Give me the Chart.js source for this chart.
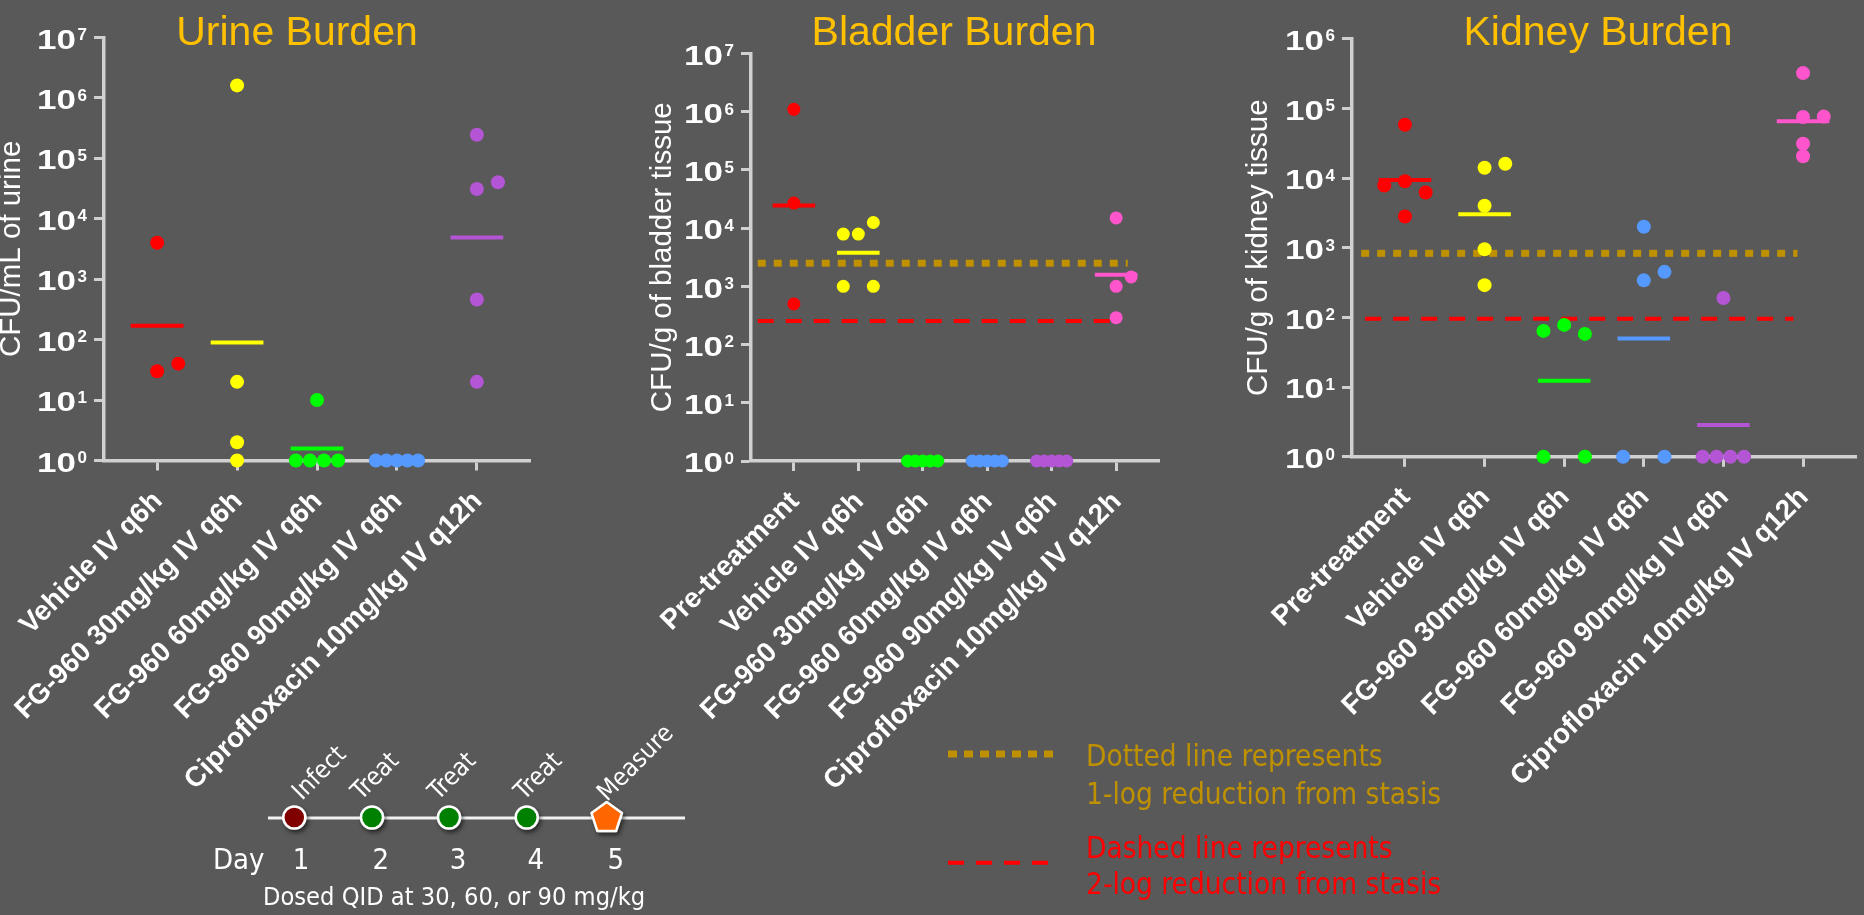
<!DOCTYPE html>
<html>
<head>
<meta charset="utf-8">
<title>CFU burden after FG-960 dosing</title>
<script src="https://cdn.jsdelivr.net/npm/chart.js@4.4.1/dist/chart.umd.min.js"></script>
<style>
  html, body { margin: 0; padding: 0; background: #595959; }
  #stage { position: relative; width: 1864px; height: 915px; overflow: hidden; background: #595959; }
  #stage canvas { position: absolute; top: 0; }
  #overlay { position: absolute; left: 0; top: 0; pointer-events: none; }
  .cond { font-family: 'DejaVu Sans Condensed', 'DejaVu Sans', sans-serif; font-stretch: condensed; }
</style>
</head>
<body>
<div id="stage">
  <canvas id="urineChart" width="620" height="915" style="left:0px"></canvas>
  <canvas id="bladderChart" width="620" height="915" style="left:620px"></canvas>
  <canvas id="kidneyChart" width="624" height="915" style="left:1240px"></canvas>

  <svg id="overlay" width="1864" height="915" viewBox="0 0 1864 915">
    <defs>
      <filter id="markerShadow" x="-60%" y="-60%" width="220%" height="220%">
        <feDropShadow dx="2" dy="3" stdDeviation="2" flood-color="#000" flood-opacity="0.55"/>
      </filter>
    </defs>

    <!-- panel titles -->
    <g font-family="'Liberation Sans', Arial, sans-serif" font-size="41" fill="#FFC000" text-anchor="middle">
      <text x="297" y="45">Urine Burden</text>
      <text x="954" y="45">Bladder Burden</text>
      <text x="1598" y="45">Kidney Burden</text>
    </g>

    <!-- dosing timeline -->
    <line x1="268" y1="818" x2="685" y2="818" stroke="#f2f2f2" stroke-width="3"/>
    <g filter="url(#markerShadow)" stroke="#ffffff" stroke-width="2.5">
      <circle cx="294.3" cy="817.5" r="11" fill="#800000"/>
      <circle cx="372" cy="817.5" r="11" fill="#008000"/>
      <circle cx="449" cy="817.5" r="11" fill="#008000"/>
      <circle cx="526.7" cy="817.5" r="11" fill="#008000"/>
      <polygon points="606.7,802 621.9,813.1 616.1,830.9 597.3,830.9 591.5,813.1" fill="#FF6600" stroke-linejoin="round"/>
    </g>
    <g class="cond" font-size="25" fill="#ffffff">
      <text transform="translate(302,801) rotate(-45)">Infect</text>
      <text transform="translate(361,801) rotate(-45)">Treat</text>
      <text transform="translate(438,801) rotate(-45)">Treat</text>
      <text transform="translate(524,801) rotate(-45)">Treat</text>
      <text transform="translate(607,802) rotate(-45)">Measure</text>
    </g>
    <g class="cond" font-size="29" fill="#ffffff">
      <text x="213" y="869">Day</text>
      <g text-anchor="middle">
        <text x="301" y="869">1</text>
        <text x="380.7" y="869">2</text>
        <text x="458" y="869">3</text>
        <text x="535.7" y="869">4</text>
        <text x="615.7" y="869">5</text>
      </g>
    </g>
    <text class="cond" x="263" y="905" font-size="25.2" fill="#ffffff">Dosed QID at 30, 60, or 90 mg/kg</text>

    <!-- key for the stasis reference lines -->
    <line x1="948" y1="754" x2="1054" y2="754" stroke="#BF9000" stroke-width="7" stroke-dasharray="9 7"/>
    <g class="cond" font-size="29.5" fill="#BF9000">
      <text x="1086" y="766">Dotted line represents</text>
      <text x="1086" y="804">1-log reduction from stasis</text>
    </g>
    <line x1="948" y1="862.7" x2="1048" y2="862.7" stroke="#FF0000" stroke-width="4" stroke-dasharray="16 12"/>
    <g class="cond" font-size="29.5" fill="#FF0000">
      <text x="1086" y="858">Dashed line represents</text>
      <text x="1086" y="894">2-log reduction from stasis</text>
    </g>
  </svg>
</div>

<script>
// ---- groups ----
const urineGroups = [
  'Vehicle IV q6h',
  'FG-960 30mg/kg IV q6h',
  'FG-960 60mg/kg IV q6h',
  'FG-960 90mg/kg IV q6h',
  'Ciprofloxacin 10mg/kg IV q12h'
];
const tissueGroups = [
  'Pre-treatment',
  'Vehicle IV q6h',
  'FG-960 30mg/kg IV q6h',
  'FG-960 60mg/kg IV q6h',
  'FG-960 90mg/kg IV q6h',
  'Ciprofloxacin 10mg/kg IV q12h'
];

// ---- CFU per animal (1 = limit of detection) ----
const urineCfu = [
  [4000, 30, 40],
  [1600000, 20, 2, 1],
  [10, 1, 1, 1, 1],
  [1, 1, 1, 1, 1],
  [245000, 31000, 40000, 460, 20]
];
const bladderCfu = [
  [1100000, 27000, 500],
  [7900, 7900, 12500, 1000, 1000],
  [1, 1, 1, 1, 1],
  [1, 1, 1, 1, 1],
  [1, 1, 1, 1, 1],
  [15000, 1450, 1000, 290]
];
const kidneyCfu = [
  [58000, 7800, 9000, 6200, 2800],
  [14000, 16000, 4000, 950, 290],
  [64, 78, 58, 1, 1],
  [2000, 340, 450, 1, 1],
  [190, 1, 1, 1, 1],
  [320000, 75000, 76000, 31000, 20500]
];

// stasis reference levels: [1-log reduction, 2-log reduction]
const bladderStasisLines = [2500, 255];
const kidneyStasisLines = [830, 96];

// y tick values
const urineDecades = [1, 10, 100, 1e3, 1e4, 1e5, 1e6, 1e7];
const bladderDecades = [1, 10, 100, 1e3, 1e4, 1e5, 1e6, 1e7];
const kidneyDecades = [1, 10, 100, 1e3, 1e4, 1e5, 1e6];

// ---- styles ----
const urineColors = ['#FF0000', '#FFFF00', '#00FF00', '#5599FF', '#B455D5'];
const tissueColors = ['#FF0000', '#FFFF00', '#00FF00', '#5599FF', '#B455D5', '#FF55CC'];
const AXIS = '#D0D0D0';
const SANS = "'Liberation Sans', Arial, sans-serif";
const STAGE_H = 915;

Chart.defaults.font.family = SANS;

function geoMean(vals) {
  const s = vals.reduce((a, v) => a + Math.log10(v), 0);
  return Math.pow(10, s / vals.length);
}

// Scatter-dot layout: points whose markers would overlap vertically are grouped
// and fanned out sideways within +/- spread (category units).
function spreadOffsets(vals, spread, pxPerDecade, joinPx) {
  const order = vals.map((_, i) => i).sort((a, b) => (vals[b] - vals[a]) || (a - b));
  const clusters = [];
  let cur = [];
  order.forEach(i => {
    if (cur.length) {
      const prev = cur[cur.length - 1];
      const gap = (Math.log10(vals[prev]) - Math.log10(vals[i])) * pxPerDecade;
      if (gap > joinPx) { clusters.push(cur); cur = []; }
    }
    cur.push(i);
  });
  if (cur.length) clusters.push(cur);

  const off = vals.map(() => 0);
  clusters.forEach(c => {
    if (c.length < 2) return;
    c.sort((a, b) => a - b);
    const same = c.every(i => vals[i] === vals[c[0]]);
    if (c.length === 2 && !same) {
      const hi = vals[c[0]] > vals[c[1]] ? c[0] : c[1];
      off[hi] = spread;
      return;
    }
    c.forEach((i, k) => { off[i] = -spread + (2 * spread * k) / (c.length - 1); });
  });
  return off;
}

// Power-of-ten tick labels: "10" with a raised exponent, right-aligned next to the tick marks.
const powerTickLabels = {
  id: 'powerTickLabels',
  afterDraw(chart) {
    const y = chart.scales.y;
    const ctx = chart.ctx;
    const right = chart.chartArea.left - 17;
    ctx.save();
    ctx.fillStyle = '#ffffff';
    ctx.textBaseline = 'alphabetic';
    ctx.textAlign = 'right';
    y.ticks.forEach(t => {
      const py = y.getPixelForValue(t.value);
      const exp = String(Math.round(Math.log10(t.value)));
      ctx.font = `bold 17px ${SANS}`;
      const ew = ctx.measureText(exp).width;
      ctx.fillText(exp, right, py + 2.8);
      ctx.font = `bold 28px ${SANS}`;
      ctx.save();
      ctx.translate(right - ew - 1.5, py + 11.2);
      ctx.scale(1.25, 1);
      ctx.fillText('10', 0, 0);
      ctx.restore();
    });
    ctx.restore();
  }
};

function makePanel(cfg) {
  const nGroups = cfg.groups.length;
  const maxExp = cfg.decades.length - 1;
  const pxPerDecade = (cfg.plotBottom - cfg.plotTop) / maxExp;
  const datasets = [];

  if (cfg.stasis) {
    datasets.push({
      data: [{ x: cfg.dottedSpan[0], y: cfg.stasis[0] }, { x: cfg.dottedSpan[1], y: cfg.stasis[0] }],
      showLine: true, borderColor: '#BF9000', borderWidth: 7, borderDash: [8, 8],
      borderCapStyle: 'butt', pointRadius: 0, order: 3, clip: false
    });
    datasets.push({
      data: [{ x: cfg.dashedSpan[0], y: cfg.stasis[1] }, { x: cfg.dashedSpan[1], y: cfg.stasis[1] }],
      showLine: true, borderColor: '#FF0000', borderWidth: 4, borderDash: [16, 12],
      borderCapStyle: 'butt', pointRadius: 0, order: 3, clip: false
    });
  }

  cfg.values.forEach((vals, g) => {
    const gm = geoMean(vals);
    datasets.push({
      data: [{ x: g - 0.33, y: gm }, { x: g + 0.33, y: gm }],
      showLine: true, borderColor: cfg.colors[g], borderWidth: 4,
      borderCapStyle: 'butt', pointRadius: 0, order: 2, clip: false
    });
    const offs = spreadOffsets(vals, cfg.spread, pxPerDecade, 12.0);
    datasets.push({
      data: vals.map((v, i) => ({ x: g + offs[i], y: v })),
      showLine: false, pointRadius: cfg.radius, pointBorderWidth: 0,
      pointBackgroundColor: cfg.colors[g], borderColor: cfg.colors[g],
      pointHoverRadius: cfg.radius, order: 1, clip: false
    });
  });

  return new Chart(document.getElementById(cfg.canvas), {
    type: 'scatter',
    data: { datasets },
    plugins: [powerTickLabels],
    options: {
      responsive: false,
      animation: false,
      events: [],
      devicePixelRatio: 1,
      layout: {
        padding: { left: 0, top: cfg.plotTop, right: cfg.width - (cfg.plotRight - cfg.left), bottom: 0 }
      },
      plugins: { legend: { display: false }, tooltip: { enabled: false }, title: { display: false } },
      scales: {
        x: {
          type: 'linear',
          min: -0.665,
          max: nGroups - 1 + 0.665,
          afterBuildTicks: s => { s.ticks = cfg.groups.map((_, i) => ({ value: i })); },
          afterFit: s => {
            s.height = STAGE_H - cfg.plotBottom;
            s.paddingLeft = 0;
            s.paddingRight = 0;
          },
          ticks: {
            callback: v => cfg.groups[v],
            color: '#ffffff',
            font: { family: SANS, size: 28, weight: 'bold' },
            minRotation: 45, maxRotation: 45, autoSkip: false,
            padding: 14.3, labelOffset: 1
          },
          grid: { drawOnChartArea: false, drawTicks: true, tickLength: 10, tickWidth: 3, tickColor: AXIS },
          border: { display: true, color: AXIS, width: 3.5 }
        },
        y: {
          type: 'logarithmic',
          min: 1,
          max: cfg.decades[maxExp],
          afterBuildTicks: s => { s.ticks = cfg.decades.map(v => ({ value: v })); },
          afterFit: s => {
            s.width = cfg.plotLeft - cfg.left;
            s.paddingTop = 0;
            s.paddingBottom = 0;
          },
          ticks: { display: false, autoSkip: false },
          grid: { drawOnChartArea: false, drawTicks: true, tickLength: 10, tickWidth: 3, tickColor: AXIS },
          border: { display: true, color: AXIS, width: 3.5 },
          title: {
            display: true, text: cfg.yTitle, color: '#ffffff',
            font: { family: SANS, size: 29.5, lineHeight: 1 },
            padding: { top: cfg.titlePad, bottom: 0 }
          }
        }
      }
    }
  });
}

makePanel({
  canvas: 'urineChart', left: 0, width: 620,
  plotLeft: 104, plotRight: 530, plotTop: 37.3, plotBottom: 460.5,
  groups: urineGroups, values: urineCfu, colors: urineColors, decades: urineDecades,
  spread: 0.264, radius: 7, yTitle: 'CFU/mL of urine', titlePad: -3.25
});

makePanel({
  canvas: 'bladderChart', left: 620, width: 620,
  plotLeft: 751, plotRight: 1159, plotTop: 53.5, plotBottom: 461,
  groups: tissueGroups, values: bladderCfu, colors: tissueColors, decades: bladderDecades,
  spread: 0.233, radius: 6.5, yTitle: 'CFU/g of bladder tissue', titlePad: 27.75,
  stasis: bladderStasisLines, dottedSpan: [-0.56, 5.18], dashedSpan: [-0.56, 5.03]
});

makePanel({
  canvas: 'kidneyChart', left: 1240, width: 624,
  plotLeft: 1352, plotRight: 1856, plotTop: 38.6, plotBottom: 456.8,
  groups: tissueGroups, values: kidneyCfu, colors: tissueColors, decades: kidneyDecades,
  spread: 0.26, radius: 7, yTitle: 'CFU/g of kidney tissue', titlePad: 4.15,
  stasis: kidneyStasisLines, dottedSpan: [-0.55, 4.93], dashedSpan: [-0.5, 4.88]
});
</script>
</body>
</html>
